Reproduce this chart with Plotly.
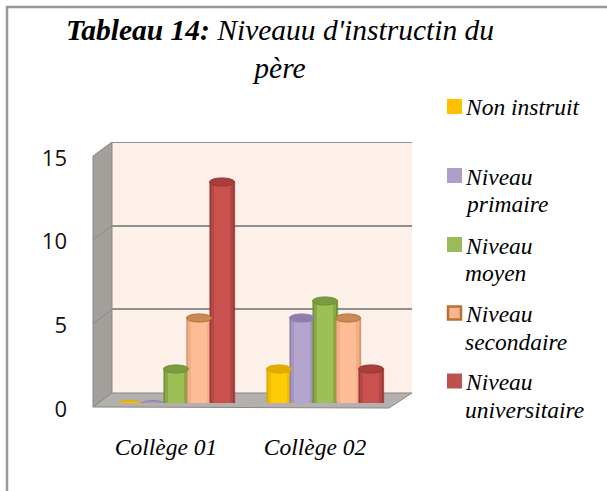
import plotly.graph_objects as go

W, H = 607, 491
categories = ["Collège 01", "Collège 02"]
series_names = ["Non instruit", "Niveau<br>primaire", "Niveau<br>moyen", "Niveau<br>secondaire", "Niveau<br>universitaire"]
non_instruit = [0, 2]
primaire = [0, 5]
moyen = [2, 6]
secondaire = [5, 5]
universitaire = [13, 2]
series_values = [non_instruit, primaire, moyen, secondaire, universitaire]
y_ticks = [0, 5, 10, 15]

# edge, mid, light, cap
palette = [
    ("#dca800", "#f4bc00", "#ffcb05", "#e2ab00"),
    ("#8e80ab", "#a596c0", "#b3a5cd", "#8d7eac"),
    ("#6f9135", "#86aa45", "#9cc056", "#7a9c3f"),
    ("#e09f72", "#f2b088", "#fcbc95", "#c98a55"),
    ("#983734", "#b54845", "#c9514e", "#a83f3c"),
]
swatch = ["#ffc000", "#ad9fc7", "#9bbb59", "#fbb58e", "#c0504d"]
line_col = [None, None, None, "#b96f35", None]
GRID = "#8f8f8f"

def px(x): return x / W
def py(y): return 1 - y / H

SX0, SX1 = 112, 412
U = 149.0
x_lo = -(176 - SX0) / U
x_hi = 1 + (SX1 - 325) / U
pitch = 23.0 / U
bw = 25.0 / U
cap_h = 0.24

fig = go.Figure()
shapes = []
annotations = []

# Back-wall subplot first, so that its grid lies behind the bars
fig.add_trace(go.Scatter(x=[x_lo], y=[0], yaxis="y", xaxis="x", mode="markers",
                         marker=dict(opacity=0), showlegend=False, hoverinfo="skip"))

for i, (name, vals) in enumerate(zip(series_names, series_values)):
    off = (i - 2) * pitch
    xs = [k + off for k in range(len(categories))]
    edge, mid, light, cap = palette[i]
    fig.add_trace(go.Bar(x=xs, y=vals, width=bw, name=name.replace("<br>", " "),
                         marker=dict(color=edge, line=dict(color=line_col[i] or edge, width=0.5)),
                         showlegend=False, xaxis="x", yaxis="y2"))
    for frac, col in [(0.86, mid), (0.62, light)]:
        fig.add_trace(go.Bar(x=xs, y=vals, width=frac * bw,
                             marker=dict(color=col, line=dict(width=0)),
                             showlegend=False, hoverinfo="skip", xaxis="x", yaxis="y2"))
    for x, v in zip(xs, vals):
        if v == 0:
            shapes.append(dict(type="circle", xref="x", yref="y2", x0=x - bw * 0.42, x1=x + bw * 0.42,
                               y0=-0.14, y1=0.14, fillcolor=mid, line=dict(color=cap, width=1), layer="above"))
            continue
        shapes.append(dict(type="circle", xref="x", yref="y2", x0=x - bw / 2, x1=x + bw / 2,
                           y0=-cap_h, y1=cap_h, fillcolor=mid, line=dict(color=line_col[i] or edge, width=1), layer="between"))
        shapes.append(dict(type="circle", xref="x", yref="y2", x0=x - bw / 2, x1=x + bw / 2,
                           y0=v - cap_h, y1=v + cap_h, fillcolor=cap, line=dict(color=line_col[i] or edge, width=1), layer="above"))

def poly(pts, fill, line="#8c8c8c", lw=1):
    path = "M " + " L ".join(f"{px(a):.4f} {py(b):.4f}" for a, b in pts) + " Z"
    return dict(type="path", xref="paper", yref="paper", path=path, fillcolor=fill,
                line=dict(color=line, width=lw), layer="below")

shapes += [
    poly([(SX0, 142), (SX1, 142), (SX1, 393), (SX0, 393)], "#fdf0e9", "#fdf0e9", 0),
    poly([(93, 156), (SX0, 142), (SX0, 393), (93, 407)], "#a39f9b", "#8a8785", 1),
    poly([(93, 407), (SX0, 393), (SX1, 393), (389, 408)], "#b3b0ad", "#8a8785", 1),
]
for t in y_ticks[1:3]:
    shapes.append(dict(type="line", xref="paper", yref="y", x0=px(93), x1=px(SX0),
                       y0=t - 0.85, y1=t, line=dict(color="#8a8785", width=1), layer="below"))
# Top gridline, which the axis leaves out at its range end
shapes.append(dict(type="line", xref="paper", yref="y", x0=px(SX0), x1=px(SX1), y0=y_ticks[-1], y1=y_ticks[-1],
                   line=dict(color=GRID, width=2), layer="below"))
# Frame
shapes.append(dict(type="line", xref="paper", yref="paper", x0=px(6), x1=1, y0=py(7), y1=py(7),
                   line=dict(color="#999999", width=2.5), layer="below"))
shapes.append(dict(type="line", xref="paper", yref="paper", x0=px(7), x1=px(7), y0=py(6), y1=0,
                   line=dict(color="#999999", width=2.5), layer="below"))

serif = "Liberation Serif"
# Legend drawn by hand: swatch and each text line
swatch_top = [99, 168, 237, 305.5, 373.5]
for i, name in enumerate(series_names):
    top = swatch_top[i]
    lc = line_col[i]
    inset = 1 if lc else 0
    shapes.append(dict(type="rect", xref="paper", yref="paper", x0=px(447 + inset), x1=px(462 - inset),
                       y0=py(top + inset), y1=py(top + 15 - inset), fillcolor=swatch[i],
                       line=dict(color=lc or swatch[i], width=2.5 if lc else 0)))
    for j, part in enumerate(name.split("<br>")):
        annotations.append(dict(xref="paper", yref="paper", x=px(463), y=py(top + 8.5 + j * 27.5),
                                xanchor="left", yanchor="middle", showarrow=False, text=f"<i>{part}</i>",
                                font=dict(family=serif, size=23.5, color="black")))

fig.update_layout(
    width=W, height=H, autosize=False,
    margin=dict(l=0, r=0, t=0, b=0),
    paper_bgcolor="white", plot_bgcolor="rgba(0,0,0,0)",
    barmode="overlay", bargap=0,
    shapes=shapes,
    annotations=annotations,
    showlegend=False,
    title=dict(text="<b><i>Tableau 14:</i></b><i> Niveauu d'instructin du<br>père</i>",
               x=px(280), y=py(40), xanchor="center", yanchor="middle",
               font=dict(family=serif, size=29.5, color="black")),
    xaxis=dict(domain=[px(SX0), px(SX1)], range=[x_lo, x_hi], tickvals=[0, 1], ticktext=categories,
               anchor="y", showgrid=False, zeroline=False, showline=False, ticks="", automargin=False,
               tickfont=dict(family=serif, size=23.5, color="black", style="italic"),
               ticklabelshift=-10, ticklabelstandoff=37),
    yaxis=dict(domain=[py(393), py(142)], range=[0, 15], anchor="free", position=px(67),
               tickvals=y_ticks, showgrid=True, gridcolor=GRID, gridwidth=2, zeroline=False,
               ticks="", showline=False, ticklabelshift=16, automargin=False,
               tickfont=dict(family="Open Sans", size=22, color="#111111")),
    yaxis2=dict(domain=[py(403), py(148)], range=[0, 15], anchor="x", showgrid=False, zeroline=False,
                showticklabels=False, ticks="", showline=False, automargin=False),
)
fig.write_html("out.html", config=dict(displayModeBar=False),
               post_script="document.body.style.margin='0';document.documentElement.style.overflow='hidden';")
